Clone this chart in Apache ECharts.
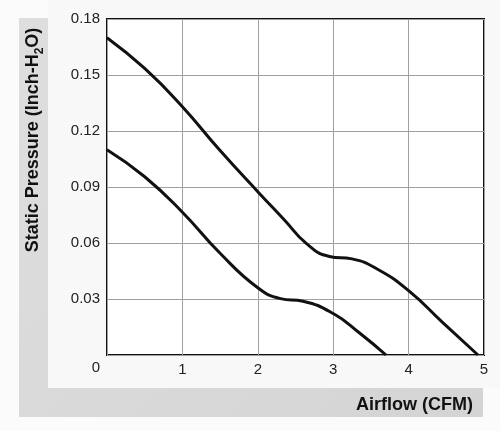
<!DOCTYPE html>
<html>
<head>
<meta charset="utf-8">
<script src="https://cdn.jsdelivr.net/npm/echarts@6/dist/echarts.min.js"></script>
<style>
  html, body { margin: 0; padding: 0; background: #fbfbfb; }
  #chart { width: 500px; height: 431px; }
</style>
</head>
<body>
<div id="chart"></div>
<script>
// tick labels
const xTicks = [0, 1, 2, 3, 4, 5];
const yTicks = [0, 0.03, 0.06, 0.09, 0.12, 0.15, 0.18];

// upper curve (CFM, inch-H2O)
const upperFlow = [0, 0.5, 1.0, 1.5, 2.0, 2.35, 2.65, 2.95, 3.25, 3.6, 4.0, 4.45, 4.92];
const upperPres = [0.170, 0.1535, 0.133, 0.1095, 0.0875, 0.0725, 0.0595, 0.0528, 0.0515, 0.0457, 0.0345, 0.0175, 0];

// lower curve
const lowerFlow = [0, 0.5, 1.0, 1.5, 2.0, 2.3, 2.6, 3.0, 3.35, 3.7];
const lowerPres = [0.110, 0.0955, 0.0765, 0.0545, 0.036, 0.0302, 0.0288, 0.0222, 0.0118, 0];

const pairs = (xs, ys) => xs.map((x, i) => [x, ys[i]]);

const chart = echarts.init(document.getElementById('chart'));
chart.setOption({
  animation: false,
  backgroundColor: '#fbfbfb',
  grid: {
    left: 107, right: 16, top: 19, bottom: 76,
    show: true,
    backgroundColor: '#ffffff',
    borderColor: '#111',
    borderWidth: 2
  },
  xAxis: {
    type: 'value',
    min: xTicks[0], max: xTicks[xTicks.length - 1], interval: 1,
    axisLine: { show: false },
    axisTick: { show: false },
    splitLine: { lineStyle: { color: '#a0a0a0', width: 1 } },
    axisLabel: {
      margin: 7,
      fontFamily: 'Liberation Sans, Arial',
      fontSize: 15,
      color: '#222',
      formatter: v => (v === 0 ? '' : String(v))
    }
  },
  yAxis: {
    type: 'value',
    min: yTicks[0], max: yTicks[yTicks.length - 1], interval: 0.03,
    axisLine: { show: false },
    axisTick: { show: false },
    splitLine: { lineStyle: { color: '#a0a0a0', width: 1 } },
    axisLabel: {
      margin: 7,
      fontFamily: 'Liberation Sans, Arial',
      fontSize: 15,
      color: '#222',
      formatter: v => (v === 0 ? '' : v.toFixed(2))
    }
  },
  graphic: [
    // L-shaped grey band behind the axes
    { type: 'rect', z: -10, shape: { x: 19, y: 18, width: 464, height: 399 },
      style: { fill: new echarts.graphic.LinearGradient(0, 0, 1, 1, [
        { offset: 0, color: '#dedede' }, { offset: 1, color: '#d4d4d4' }]) } },
    { type: 'rect', z: -9, shape: { x: 48, y: 0, width: 452, height: 388 },
      style: { fill: '#f8f8f8' } },
    { type: 'text', x: 96, y: 368, z: 10,
      style: { text: '0', fontFamily: 'Liberation Sans, Arial', fontSize: 15, fill: '#222',
        align: 'center', verticalAlign: 'middle' } },
    { type: 'text', x: 473, y: 405, z: 10,
      style: { text: 'Airflow (CFM)', fontFamily: 'Liberation Sans, Arial', fontSize: 18,
        fontWeight: 'bold', fill: '#111', align: 'right', verticalAlign: 'middle' } },
    { type: 'text', x: 33, y: 140, z: 10, rotation: Math.PI / 2,
      style: {
        text: '{b|Static Pressure (Inch-H}{s|2}{b|O)}',
        align: 'center', verticalAlign: 'middle',
        rich: {
          b: { fontFamily: 'Liberation Sans, Arial', fontSize: 18, fontWeight: 'bold', fill: '#111', lineHeight: 26 },
          s: { fontFamily: 'Liberation Sans, Arial', fontSize: 12, fontWeight: 'bold', fill: '#111', lineHeight: 26, verticalAlign: 'bottom' }
        }
      } }
  ],
  series: [
    {
      type: 'line', data: pairs(upperFlow, upperPres),
      smooth: 0.5, symbol: 'none',
      lineStyle: { color: '#111', width: 3 }
    },
    {
      type: 'line', data: pairs(lowerFlow, lowerPres),
      smooth: 0.5, symbol: 'none',
      lineStyle: { color: '#111', width: 3 }
    }
  ]
});
</script>
</body>
</html>
